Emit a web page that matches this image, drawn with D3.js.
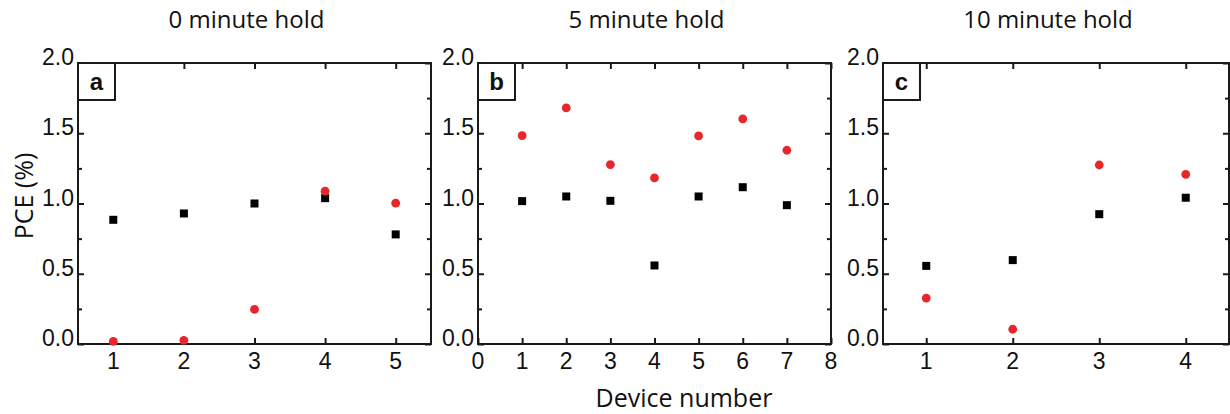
<!DOCTYPE html>
<html><head><meta charset="utf-8">
<script src="https://cdn.jsdelivr.net/npm/d3@7"></script>
<style>body{margin:0;background:#fff}svg{display:block}</style>
</head><body>
<svg id="chart" width="1230" height="414"></svg>
<script>
// ---- data ----
const panelTitles = ["0 minute hold", "5 minute hold", "10 minute hold"];
const panelLetters = ["a", "b", "c"];
const devicesA = [1, 2, 3, 4, 5];
const blackA = [0.884, 0.929, 1.0, 1.038, 0.78];
const redA = [0.019, 0.026, 0.246, 1.088, 1.002];
const devicesB = [1, 2, 3, 4, 5, 6, 7];
const blackB = [1.017, 1.05, 1.019, 0.559, 1.05, 1.116, 0.988];
const redB = [1.483, 1.68, 1.277, 1.182, 1.481, 1.602, 1.379];
const devicesC = [1, 2, 3, 4];
const blackC = [0.556, 0.597, 0.924, 1.041];
const redC = [0.327, 0.105, 1.274, 1.208];
const xTicksA = [1, 2, 3, 4, 5];
const xTicksB = [0, 1, 2, 3, 4, 5, 6, 7, 8];
const xTicksC = [1, 2, 3, 4];
const xDomainA = [0.5, 5.5];
const xDomainB = [0, 8];
const xDomainC = [0.5, 4.5];
const yMajor = [0, 0.5, 1.0, 1.5, 2.0];
const yMinor = [0.25, 0.75, 1.25, 1.75];
const yLabel = "PCE (%)";
const xLabel = "Device number";

const panels = [
  {x: devicesA, black: blackA, red: redA, ticks: xTicksA, domain: xDomainA, range: [78, 431]},
  {x: devicesB, black: blackB, red: redB, ticks: xTicksB, domain: xDomainB, range: [478, 831]},
  {x: devicesC, black: blackC, red: redC, ticks: xTicksC, domain: xDomainC, range: [883, 1229]}
];

const svg = d3.select("#chart");
const yTop = 63, yBottom = 344;
const y = d3.scaleLinear().domain([0, 2]).range([yBottom, yTop]);
const numFont = "'Liberation Sans', Arial, sans-serif";
const textFont = "'Open Sans', 'Noto Sans', sans-serif";
const axisColor = "#1a1a1a";

panels.forEach((p, i) => {
  const x = d3.scaleLinear().domain(p.domain).range(p.range);
  const g = svg.append("g");
  const L = p.range[0], R = p.range[1];

  const tickLen = 6, minorLen = 4;
  const yAxisL = d3.axisRight(y).tickValues(yMajor).tickSize(tickLen).tickFormat("");
  const yAxisR = d3.axisLeft(y).tickValues(yMajor).tickSize(tickLen).tickFormat("");
  const yMinL = d3.axisRight(y).tickValues(yMinor).tickSize(minorLen).tickFormat("");
  const yMinR = d3.axisLeft(y).tickValues(yMinor).tickSize(minorLen).tickFormat("");
  const xAxisB = d3.axisTop(x).tickValues(p.ticks).tickSize(tickLen).tickFormat("");
  const xAxisT = d3.axisBottom(x).tickValues(p.ticks).tickSize(tickLen).tickFormat("");
  [[yAxisL, `translate(${L},0)`], [yMinL, `translate(${L},0)`],
   [yAxisR, `translate(${R},0)`], [yMinR, `translate(${R},0)`],
   [xAxisB, `translate(0,${yBottom})`], [xAxisT, `translate(0,${yTop})`]].forEach(([ax, tr]) => {
    const a = g.append("g").attr("transform", tr).call(ax);
    a.select(".domain").remove();
    a.selectAll("line").attr("stroke", axisColor).attr("stroke-width", 2);
  });

  g.append("rect").attr("x", L).attr("y", yTop).attr("width", R - L).attr("height", yBottom - yTop)
    .attr("fill", "none").attr("stroke", axisColor).attr("stroke-width", 2);

  g.selectAll(".yl").data(yMajor).join("text")
    .attr("x", L - 4).attr("y", d => y(d) + 2)
    .attr("text-anchor", "end").attr("font-family", numFont).attr("font-size", 23)
    .attr("fill", "#111").text(d3.format(".1f"));

  g.selectAll(".xl").data(p.ticks).join("text")
    .attr("x", d => x(d)).attr("y", yBottom + 25)
    .attr("text-anchor", "middle").attr("font-family", numFont).attr("font-size", 23)
    .attr("fill", "#111").text(d => d);

  g.append("rect").attr("x", L).attr("y", yTop).attr("width", 37).attr("height", 37)
    .attr("fill", "#fff").attr("stroke", axisColor).attr("stroke-width", 2);
  g.append("text").attr("x", L + 18.5).attr("y", yTop + 27)
    .attr("text-anchor", "middle").attr("font-family", numFont).attr("font-weight", "bold")
    .attr("font-size", 24).attr("fill", "#111").text(panelLetters[i]);

  g.append("text").attr("x", (L + R) / 2 - 8).attr("y", 28)
    .attr("text-anchor", "middle").attr("font-family", textFont).attr("font-size", 24)
    .attr("fill", "#111").text(panelTitles[i]);

  const sq = 8;
  g.selectAll(".sq").data(p.x.map((d, j) => [d, p.black[j]])).join("rect")
    .attr("x", d => x(d[0]) - sq / 2).attr("y", d => y(d[1]) - sq / 2)
    .attr("width", sq).attr("height", sq).attr("fill", "#000");
  g.selectAll(".ci").data(p.x.map((d, j) => [d, p.red[j]])).join("circle")
    .attr("cx", d => x(d[0])).attr("cy", d => y(d[1])).attr("r", 4.4)
    .attr("fill", "#e8262b");
});

svg.append("text").attr("transform", `translate(33,196) rotate(-90)`)
  .attr("text-anchor", "middle").attr("font-family", textFont).attr("font-size", 25)
  .attr("fill", "#111").text(yLabel);
svg.append("text").attr("x", 684).attr("y", 407)
  .attr("text-anchor", "middle").attr("font-family", textFont).attr("font-size", 25)
  .attr("fill", "#111").text(xLabel);
</script>
</body></html>
